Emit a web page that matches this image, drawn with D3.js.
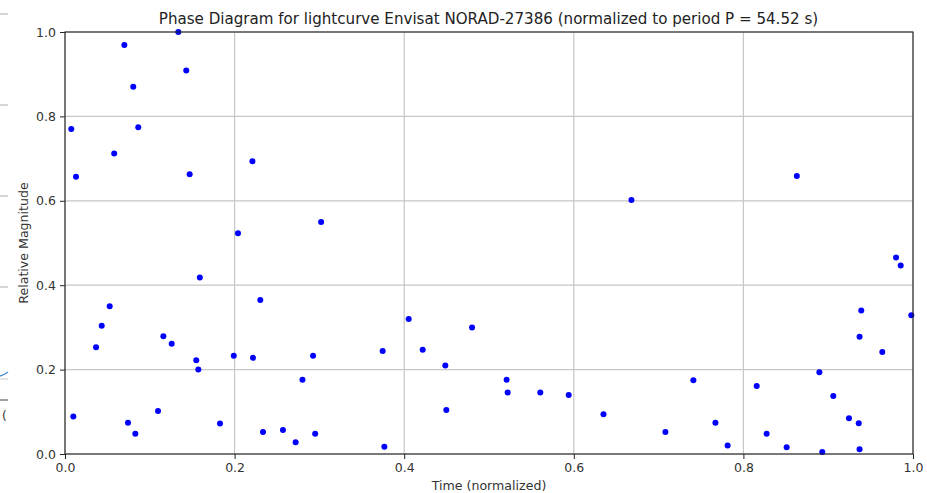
<!DOCTYPE html>
<html>
<head>
<meta charset="utf-8">
<script src="https://cdn.jsdelivr.net/npm/d3@7"></script>
<style>
  html, body { margin: 0; padding: 0; background: #fff; }
  svg { display: block; font-family: "DejaVu Sans", sans-serif; }
</style>
</head>
<body>
<svg id="chart"></svg>
<script>
// phase (normalized time) and relative magnitude
const phase = [
  0.0074, 0.013, 0.070, 0.0805, 0.0864, 0.058, 0.1336, 0.143, 0.147, 0.221, 0.204, 0.302,
  0.0098, 0.0366, 0.0433, 0.0527, 0.0743, 0.0829, 0.1097, 0.116, 0.1258, 0.1548, 0.1572, 0.159,
  0.1828, 0.199, 0.2217, 0.2303, 0.2335, 0.257, 0.272, 0.280, 0.2925, 0.295,
  0.3746, 0.3766, 0.4053, 0.4218, 0.4485, 0.4497, 0.480, 0.5208, 0.522, 0.5605, 0.594, 0.635,
  0.668, 0.863,
  0.708, 0.741, 0.767, 0.7814, 0.8157, 0.8274, 0.851, 0.8896, 0.893, 0.906, 0.9245, 0.936,
  0.937, 0.939, 0.937, 0.9638, 0.980, 0.9855, 0.998
];
const magnitude = [
  0.770, 0.657, 0.969, 0.870, 0.774, 0.712, 1.000, 0.909, 0.663, 0.694, 0.523, 0.550,
  0.089, 0.253, 0.304, 0.350, 0.074, 0.048, 0.102, 0.279, 0.261, 0.222, 0.200, 0.418,
  0.072, 0.233, 0.228, 0.365, 0.052, 0.057, 0.028, 0.176, 0.233, 0.048,
  0.244, 0.017, 0.320, 0.247, 0.2095, 0.104, 0.300, 0.176, 0.146, 0.146, 0.140, 0.094,
  0.602, 0.659,
  0.052, 0.1746, 0.074, 0.020, 0.161, 0.048, 0.016, 0.194, 0.005, 0.1376, 0.085, 0.0726,
  0.278, 0.340, 0.011, 0.242, 0.4657, 0.4467, 0.329
];
const xTicks = [0, 0.2, 0.4, 0.6, 0.8, 1.0];
const yTicks = [0, 0.2, 0.4, 0.6, 0.8, 1.0];
const title = "Phase Diagram for lightcurve Envisat NORAD-27386 (normalized to period P = 54.52 s)";

const W = 927, H = 493;
const M = { top: 32, right: 14, bottom: 39, left: 65 };
const PW = W - M.left - M.right;
const PH = H - M.top - M.bottom;

const svg = d3.select("#chart")
  .attr("width", W)
  .attr("height", H)
  .attr("viewBox", `0 0 ${W} ${H}`);

svg.append("rect").attr("width", W).attr("height", H).attr("fill", "#fff");

// bits of another window cut off at the left edge of the screenshot
const edge = svg.append("g");
[14, 105, 196, 287].forEach(y => {
  edge.append("line").attr("x1", 0).attr("x2", 8).attr("y1", y).attr("y2", y)
    .attr("stroke", "#c8c8c8").attr("stroke-width", 1.5);
});
edge.append("path").attr("d", "M0,376 Q4,375 8,372")
  .attr("fill", "none").attr("stroke", "#4a90d0").attr("stroke-width", 1.5);
edge.append("line").attr("x1", 0).attr("x2", 8).attr("y1", 379).attr("y2", 379)
  .attr("stroke", "#ccc").attr("stroke-width", 1);
edge.append("line").attr("x1", 0).attr("x2", 8).attr("y1", 400).attr("y2", 400)
  .attr("stroke", "#444").attr("stroke-width", 1);
edge.append("text").attr("x", 2).attr("y", 420).attr("font-size", 12).attr("fill", "#333").text("(");

const g = svg.append("g").attr("transform", `translate(${M.left},${M.top})`);

const x = d3.scaleLinear().domain([0, 1]).range([0, PW]);
const y = d3.scaleLinear().domain([0, 1]).range([PH, 0]);

// grid
g.append("g")
  .selectAll("line.gx")
  .data(xTicks)
  .join("line")
  .attr("x1", d => x(d)).attr("x2", d => x(d))
  .attr("y1", 0).attr("y2", PH)
  .attr("stroke", "#c6c6c6").attr("stroke-width", 1.2);

g.append("g")
  .selectAll("line.gy")
  .data(yTicks)
  .join("line")
  .attr("x1", 0).attr("x2", PW)
  .attr("y1", d => y(d)).attr("y2", d => y(d))
  .attr("stroke", "#c6c6c6").attr("stroke-width", 1.2);

// points
g.append("g")
  .selectAll("circle")
  .data(phase.map((p, i) => [p, magnitude[i]]))
  .join("circle")
  .attr("cx", d => x(d[0]))
  .attr("cy", d => y(d[1]))
  .attr("r", 3)
  .attr("fill", "#0000ff");

// frame
g.append("rect")
  .attr("width", PW).attr("height", PH)
  .attr("fill", "none").attr("stroke", "#222").attr("stroke-width", 1.1);

// axes
const styleAxis = a => {
  a.select(".domain").remove();
  a.selectAll(".tick line").attr("stroke", "#222");
  a.selectAll("text").attr("fill", "#333").attr("font-size", 12.5)
    .attr("font-family", "DejaVu Sans, sans-serif");
};

g.append("g")
  .attr("transform", `translate(0,${PH})`)
  .call(d3.axisBottom(x).tickValues(xTicks).tickFormat(d3.format(".1f")).tickSize(5).tickPadding(4))
  .call(styleAxis);

g.append("g")
  .call(d3.axisLeft(y).tickValues(yTicks).tickFormat(d3.format(".1f")).tickSize(5).tickPadding(4))
  .call(styleAxis);

// labels
svg.append("text")
  .attr("x", M.left + PW / 2 - 0.5).attr("y", 24)
  .attr("text-anchor", "middle")
  .attr("font-size", 15.1).attr("fill", "#222")
  .text(title);

svg.append("text")
  .attr("x", M.left + PW / 2).attr("y", 490)
  .attr("text-anchor", "middle")
  .attr("font-size", 12.6).attr("fill", "#333")
  .text("Time (normalized)");

svg.append("text")
  .attr("transform", `translate(27.5,${M.top + PH / 2 + 0}) rotate(-90)`)
  .attr("text-anchor", "middle")
  .attr("font-size", 12.6).attr("fill", "#333")
  .text("Relative Magnitude");
</script>
</body>
</html>
